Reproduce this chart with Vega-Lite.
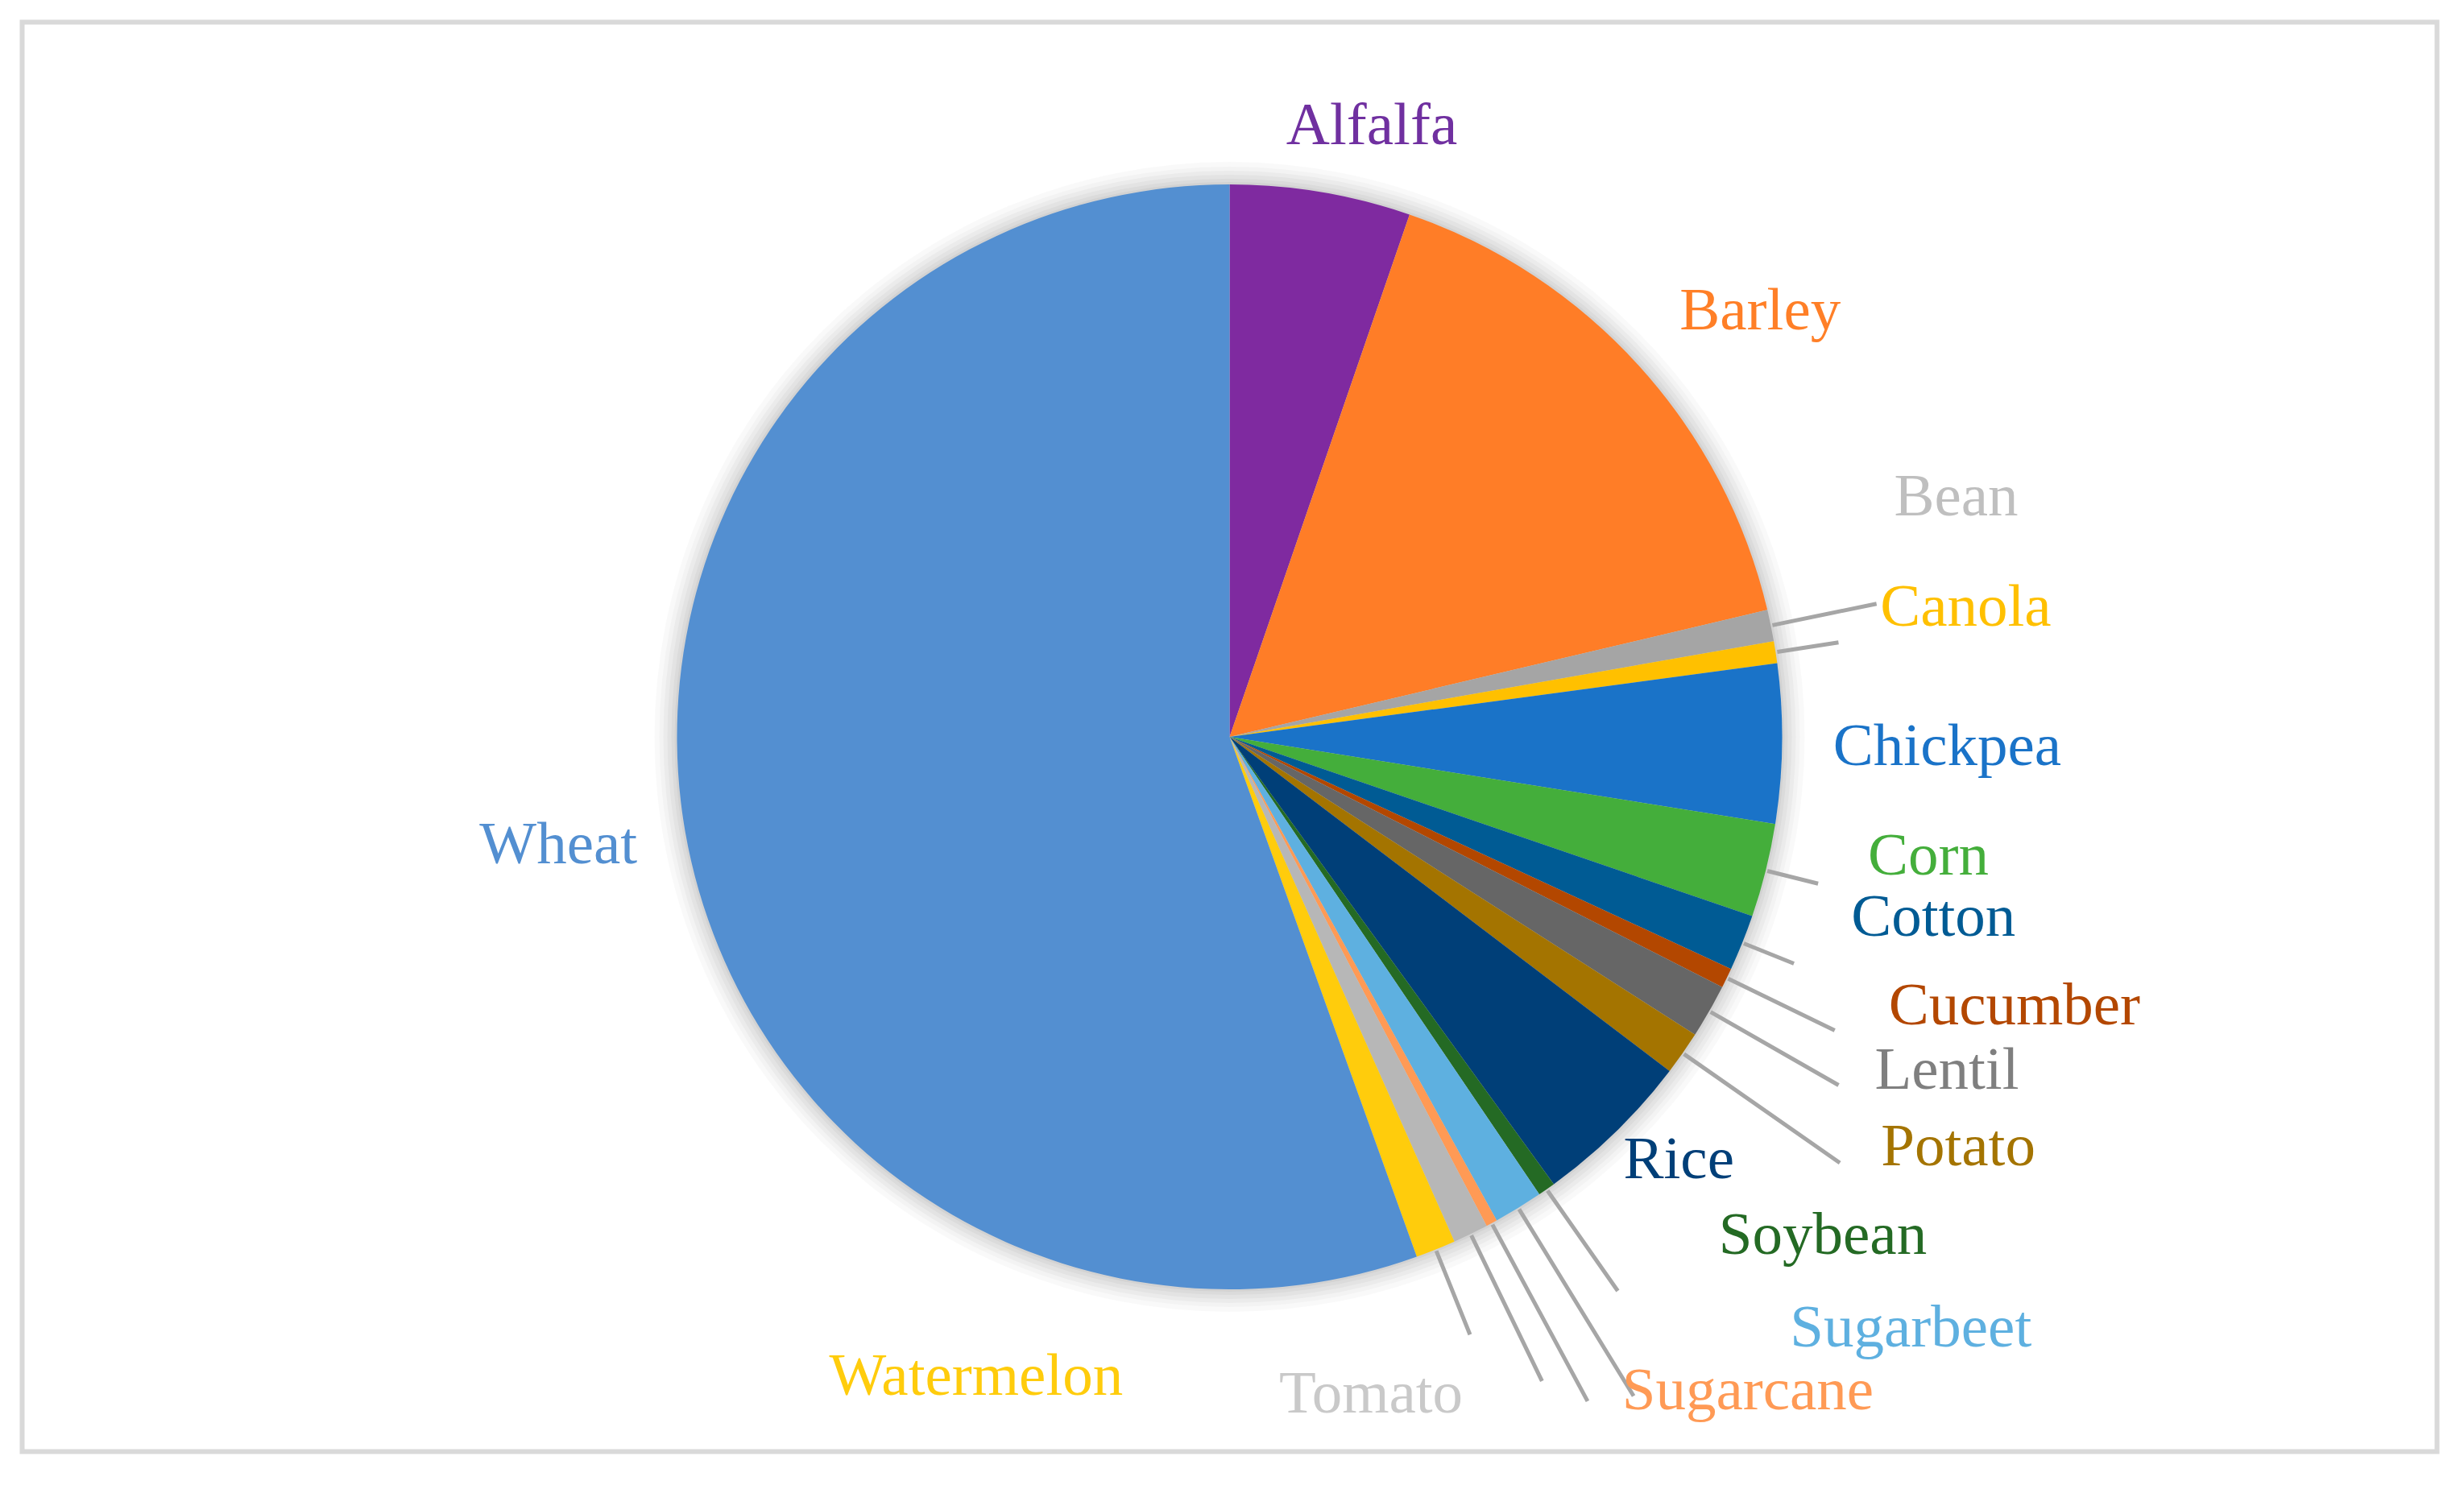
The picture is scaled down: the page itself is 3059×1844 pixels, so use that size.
{
  "$schema": "https://vega.github.io/schema/vega-lite/v6.json",
  "width": 2998,
  "height": 1775,
  "autosize": {"type": "none"},
  "padding": {"left": 27.5, "top": 27.5, "right": 33.5, "bottom": 41.5},
  "background": "white",
  "view": {"stroke": "#d9d9d9", "strokeWidth": 6},
  "data": {
    "values": [
      {"crop": "Alfalfa", "value": 5.28},
      {"crop": "Barley", "value": 16.03},
      {"crop": "Bean", "value": 0.92},
      {"crop": "Canola", "value": 0.64},
      {"crop": "Chickpea", "value": 4.65},
      {"crop": "Corn", "value": 2.74},
      {"crop": "Cotton", "value": 1.64},
      {"crop": "Cucumber", "value": 0.58},
      {"crop": "Lentil", "value": 1.58},
      {"crop": "Potato", "value": 1.28},
      {"crop": "Rice", "value": 4.68},
      {"crop": "Soybean", "value": 0.51},
      {"crop": "Sugarbeet", "value": 1.44},
      {"crop": "Sugarcane", "value": 0.33},
      {"crop": "Tomato", "value": 1.03},
      {"crop": "Watermelon", "value": 1.17},
      {"crop": "Wheat", "value": 55.5}
    ]
  },
  "layer": [
    {"data": {"values": [{}]}, "mark": {"type": "arc", "theta": 0, "theta2": 6.2832, "outerRadius": 714, "fill": "black", "fillOpacity": 0.025}, "encoding": {}},
    {"data": {"values": [{}]}, "mark": {"type": "arc", "theta": 0, "theta2": 6.2832, "outerRadius": 708, "fill": "black", "fillOpacity": 0.025}, "encoding": {}},
    {"data": {"values": [{}]}, "mark": {"type": "arc", "theta": 0, "theta2": 6.2832, "outerRadius": 703, "fill": "black", "fillOpacity": 0.03}, "encoding": {}},
    {"data": {"values": [{}]}, "mark": {"type": "arc", "theta": 0, "theta2": 6.2832, "outerRadius": 698, "fill": "black", "fillOpacity": 0.03}, "encoding": {}},
    {"data": {"values": [{}]}, "mark": {"type": "arc", "theta": 0, "theta2": 6.2832, "outerRadius": 693, "fill": "black", "fillOpacity": 0.035}, "encoding": {}},
    {"data": {"values": [{}]}, "mark": {"type": "arc", "theta": 0, "theta2": 6.2832, "outerRadius": 689, "fill": "black", "fillOpacity": 0.04}, "encoding": {}},
    {
      "mark": {"type": "arc", "outerRadius": 686, "innerRadius": 0},
      "encoding": {
        "theta": {"field": "value", "type": "quantitative", "stack": true},
        "color": {
          "field": "crop",
          "type": "nominal",
          "legend": null,
          "scale": {
            "domain": ["Alfalfa", "Barley", "Bean", "Canola", "Chickpea", "Corn", "Cotton", "Cucumber", "Lentil", "Potato", "Rice", "Soybean", "Sugarbeet", "Sugarcane", "Tomato", "Watermelon", "Wheat"],
            "range": ["#7f2aa0", "#ff7d27", "#a5a5a5", "#ffc000", "#1a73c8", "#44ae3b", "#005b94", "#b34700", "#666666", "#a47400", "#003f78", "#246a24", "#5eb0e0", "#ff9a55", "#b7b7b7", "#ffcc0c", "#538fd1"]
          }
        }
      }
    },
    {
      "mark": {
        "type": "arc",
        "innerRadius": 688,
        "outerRadius": {"expr": "[700, 700, 820, 765, 700, 753, 755, 835, 871, 924, 700, 840, 960, 937, 889, 800, 700][indexof(['Alfalfa', 'Barley', 'Bean', 'Canola', 'Chickpea', 'Corn', 'Cotton', 'Cucumber', 'Lentil', 'Potato', 'Rice', 'Soybean', 'Sugarbeet', 'Sugarcane', 'Tomato', 'Watermelon', 'Wheat'], datum.crop)]"},
        "padAngle": 1.5,
        "stroke": "#a6a6a6",
        "strokeWidth": 5,
        "fill": null
      },
      "encoding": {
        "theta": {"field": "value", "type": "quantitative", "stack": true},
        "detail": {"field": "crop", "type": "nominal"},
        "strokeOpacity": {"condition": {"test": "datum.value < 3", "value": 1}, "value": 0}
      }
    },
    {
      "mark": {
        "type": "text",
        "font": "Liberation Serif",
        "fontSize": 75,
        "align": "center",
        "baseline": "middle",
        "radius": {"expr": "[779, 845, 950, 928, 891, 880, 902, 1030, 982, 1038, 766, 962, 1120, 1036, 835, 854, 844][indexof(['Alfalfa', 'Barley', 'Bean', 'Canola', 'Chickpea', 'Corn', 'Cotton', 'Cucumber', 'Lentil', 'Potato', 'Rice', 'Soybean', 'Sugarbeet', 'Sugarcane', 'Tomato', 'Watermelon', 'Wheat'], datum.crop)]"},
        "thetaOffset": {"expr": "[0.0627, 0.0586, -0.1162, -0.0206, 0.0012, -0.0754, -0.1311, -0.1215, -0.0845, -0.0969, -0.0414, -0.2609, -0.3061, -0.1759, 0.2396, 0.7596, 0.0134][indexof(['Alfalfa', 'Barley', 'Bean', 'Canola', 'Chickpea', 'Corn', 'Cotton', 'Cucumber', 'Lentil', 'Potato', 'Rice', 'Soybean', 'Sugarbeet', 'Sugarcane', 'Tomato', 'Watermelon', 'Wheat'], datum.crop)]"}
      },
      "encoding": {
        "theta": {"field": "value", "type": "quantitative", "stack": true},
        "detail": {"field": "crop", "type": "nominal"},
        "text": {"field": "crop"},
        "color": {
          "field": "crop",
          "type": "nominal",
          "legend": null,
          "scale": {
            "domain": ["Alfalfa", "Barley", "Bean", "Canola", "Chickpea", "Corn", "Cotton", "Cucumber", "Lentil", "Potato", "Rice", "Soybean", "Sugarbeet", "Sugarcane", "Tomato", "Watermelon", "Wheat"],
            "range": ["#7030a0", "#ff7f27", "#bfbfbf", "#ffc000", "#1a73c8", "#44ae3b", "#005b94", "#b34700", "#7f7f7f", "#a47400", "#003f78", "#246a24", "#5eb0e0", "#ff9a55", "#c9c9c9", "#ffcc0c", "#538fd1"]
          }
        }
      }
    }
  ],
  "resolve": {"scale": {"color": "independent"}}
}
